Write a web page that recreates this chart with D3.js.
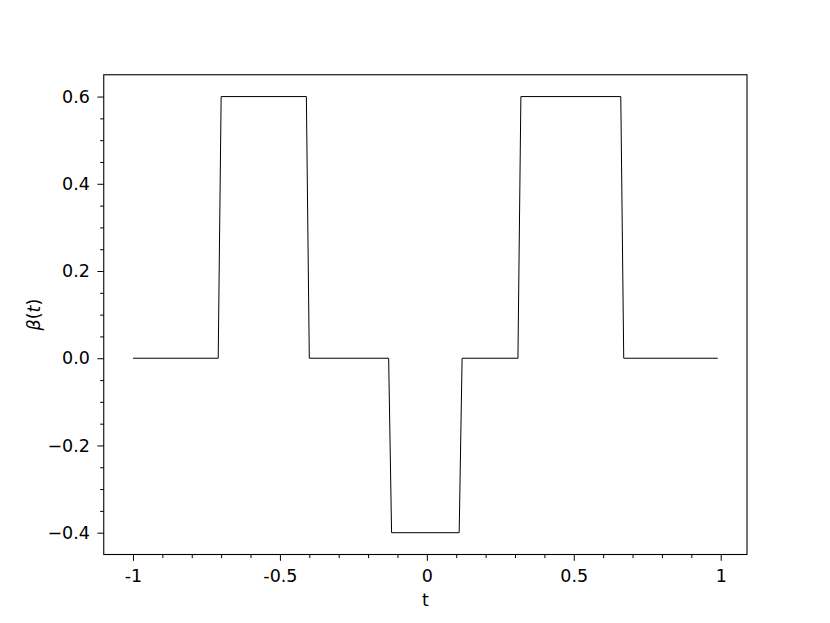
<!DOCTYPE html>
<html>
<head>
<meta charset="utf-8">
<script src="https://cdn.jsdelivr.net/npm/d3@7"></script>
<style>
  body { margin: 0; background: #fff; }
  svg { display: block; font-family: "DejaVu Sans", sans-serif; }
</style>
</head>
<body>
<div id="chart"></div>
<script>
var tValues    = [-1.00, -0.71, -0.70, -0.41, -0.40, -0.13, -0.12, 0.11, 0.12, 0.31, 0.32, 0.66, 0.67, 0.99];
var betaValues = [ 0.0,   0.0,   0.6,   0.6,   0.0,   0.0,  -0.4, -0.4,  0.0,  0.0,  0.6,  0.6,  0.0,  0.0];

// Tick positions and labels
var xTicks = [-1, -0.5, 0, 0.5, 1];
var xTickLabels = ["-1", "-0.5", "0", "0.5", "1"];
var xMinor = [-1.0, -0.9, -0.8, -0.7, -0.6, -0.5, -0.4, -0.3, -0.2, -0.1, 0, 0.1, 0.2, 0.3, 0.4, 0.5, 0.6, 0.7, 0.8, 0.9, 1.0];
var yTicks = [-0.4, -0.2, 0.0, 0.2, 0.4, 0.6];
var yMinor = [-0.4, -0.35, -0.3, -0.25, -0.2, -0.15, -0.1, -0.05, 0, 0.05, 0.1, 0.15, 0.2, 0.25, 0.3, 0.35, 0.4, 0.45, 0.5, 0.55, 0.6];

// Figure size and axes box
var width = 830, height = 623;
var plotLeft = 103.75, plotRight = 747, plotTop = 74.76, plotBottom = 554.5;
var fontSize = "17.5px";

var svg = d3.select("#chart")
    .append("svg")
    .attr("width", width)
    .attr("height", height);

// Scales (5% padding like the source)
var x = d3.scaleLinear().domain([-1.0995, 1.0895]).range([plotLeft, plotRight]);
var y = d3.scaleLinear().domain([-0.45, 0.65]).range([plotBottom, plotTop]);

// Data line
var points = tValues.map(function(t, i) { return [t, betaValues[i]]; });
var line = d3.line()
    .x(function(d) { return x(d[0]); })
    .y(function(d) { return y(d[1]); });

svg.append("path")
    .datum(points)
    .attr("d", line)
    .attr("fill", "none")
    .attr("stroke", "#000")
    .attr("stroke-width", 1);

// X axis
var xAxis = d3.axisBottom(x)
    .tickValues(xTicks)
    .tickFormat(function(d, i) { return xTickLabels[i]; })
    .tickSize(6.3)
    .tickPadding(9);
svg.append("g")
    .attr("transform", "translate(0," + plotBottom + ")")
    .call(xAxis);

var xAxisMinor = d3.axisBottom(x)
    .tickValues(xMinor.filter(function(v) {
        return !xTicks.some(function(m) { return Math.abs(m - v) < 1e-9; });
    }))
    .tickFormat("")
    .tickSize(3.6);
svg.append("g")
    .attr("transform", "translate(0," + plotBottom + ")")
    .call(xAxisMinor);

// Y axis
var yAxis = d3.axisLeft(y)
    .tickValues(yTicks)
    .tickFormat(function(d) { return d3.format(".1f")(d).replace("-", "\u2212"); })
    .tickSize(6.3)
    .tickPadding(7.5);
svg.append("g")
    .attr("transform", "translate(" + plotLeft + ",0)")
    .call(yAxis);

var yAxisMinor = d3.axisLeft(y)
    .tickValues(yMinor.filter(function(v) {
        return !yTicks.some(function(m) { return Math.abs(m - v) < 1e-9; });
    }))
    .tickFormat("")
    .tickSize(3.6);
svg.append("g")
    .attr("transform", "translate(" + plotLeft + ",0)")
    .call(yAxisMinor);

// Styling axes like matplotlib
svg.selectAll(".domain").remove();
svg.selectAll(".tick line").attr("stroke", "#000").attr("stroke-width", 1);
svg.selectAll(".tick text")
    .attr("fill", "#000")
    .style("font-family", "'DejaVu Sans', sans-serif")
    .style("font-size", fontSize);

// Frame
svg.append("rect")
    .attr("x", plotLeft)
    .attr("y", plotTop)
    .attr("width", plotRight - plotLeft)
    .attr("height", plotBottom - plotTop)
    .attr("fill", "none")
    .attr("stroke", "#000")
    .attr("stroke-width", 1.1);

// Axis labels
svg.append("text")
    .attr("x", (plotLeft + plotRight) / 2)
    .attr("y", 606)
    .attr("text-anchor", "middle")
    .style("font-size", fontSize)
    .text("t");

var yLab = svg.append("text")
    .attr("transform", "translate(40," + ((plotTop + plotBottom) / 2) + ")rotate(-90)")
    .attr("text-anchor", "middle")
    .style("font-size", fontSize);
yLab.append("tspan").style("font-style", "italic").text("\u03B2");
yLab.append("tspan").text("(");
yLab.append("tspan").style("font-style", "italic").text("t");
yLab.append("tspan").text(")");
</script>
</body>
</html>
